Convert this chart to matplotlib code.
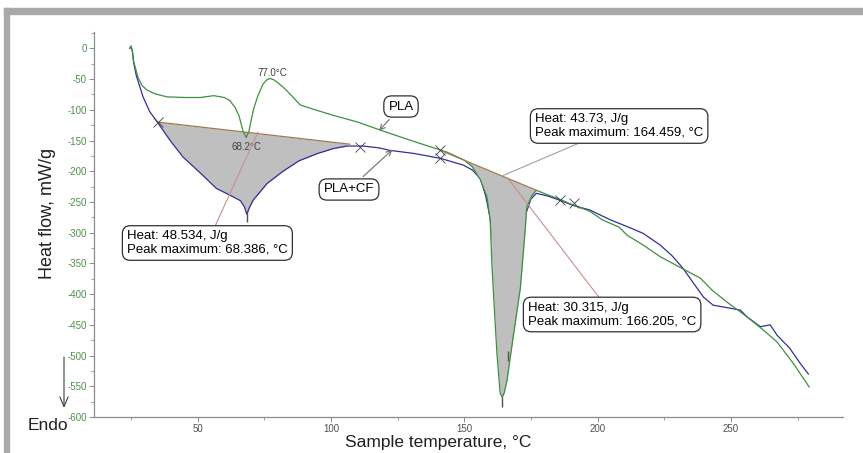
import numpy as np
import matplotlib.pyplot as plt
from matplotlib.patches import Rectangle
from matplotlib.ticker import MultipleLocator

plt.rcParams['font.family'] = ['Liberation Sans', 'DejaVu Sans']
plt.rcParams['axes.unicode_minus'] = False

# PLA (green) curve: temperature, heat flow
pla_t = [24.5, 25, 25.5, 26, 27.6, 29, 31, 34, 38.5, 45, 51, 56, 60, 62, 64, 65.5, 67, 68.2,
         69.2, 70, 71, 72.5, 74.5, 76, 77, 78.5, 80, 82, 85, 88.4, 93.3, 100, 110, 118.4, 130,
         143.5, 150, 153, 156, 158.5, 159.7, 160.3, 160.8, 162.2, 163.4, 164.2, 165, 166, 168.3,
         171, 172.8, 173.4, 175.4, 177, 181, 184.8, 190.8, 197, 201.7, 208, 211, 217, 223.4,
         232, 238.5, 243, 248.5, 256, 262, 267.3, 273.4, 279.3]
pla_hf = [0, 4, -5, -22, -47, -60, -68, -74, -79, -80, -80, -77, -80, -85, -96, -110, -135, -145,
          -135, -118, -98, -78, -58, -51, -49, -51, -56, -63, -76, -92, -99, -108, -120, -133, -150,
          -169, -182, -193, -214, -242, -280, -350, -390, -496, -561, -568, -560, -540, -470,
          -390, -296, -258, -239, -231, -238, -244, -255, -265, -279, -291, -304, -320, -339,
          -359, -374, -394, -413, -437, -458, -478, -513, -551]

# PLA+CF (blue) curve
cf_t = [24.5, 25, 25.5, 26, 27, 29.5, 32, 35, 40, 44.5, 51, 57, 63, 66, 67.5, 68.4, 69.5, 70.8,
        76, 82, 88, 95, 101, 106, 112, 118, 122, 131, 141, 149.6, 153, 156, 158, 159.6, 161.5,
        163.5, 165.5, 166.2, 167.5, 169.5, 171.5, 173, 175, 177, 181, 185, 191, 197, 204.7, 211,
        217, 223.4, 228, 232, 235.9, 239.7, 243.3, 248.5, 253.5, 256, 261, 264.7, 267.3, 272,
        276, 279]
cf_hf = [0, 3, -5, -24, -45, -79, -103, -121, -152, -177, -203, -228, -241, -248, -258, -270,
         -258, -247, -220, -200, -183, -171, -163, -159, -159, -162, -166, -171, -179, -190, -198,
         -212, -240, -275, -350, -430, -490, -500, -470, -400, -320, -270, -245, -236, -240, -246,
         -256, -263, -279, -290, -301, -320, -338, -358, -382, -405, -418, -422, -426, -437, -453,
         -450, -467, -488, -513, -530]

# integration baselines (start, end)
base1_t = [35, 107]
base1_hf = [-120, -156]
base2_t = [141, 177]
base2_hf = [-166, -231]

# integration limit marks
cross_t = [35, 111, 141, 141, 186, 191]
cross_hf = [-120, -160, -166, -179, -247, -252]

# peak maximum marks
peak_t = [68.4, 164.3, 166.2]
peak_hf = [-275, -575, -500]

W, H = 863, 453


def fp(x, y):
    return (x / W, 1 - y / H)


fig = plt.figure(figsize=(W / 100, H / 100), dpi=100)
fig.patches.append(Rectangle(fp(4, 453), 5 / W, 445 / H, transform=fig.transFigure,
                             color='#a9a9a9', zorder=0))
fig.patches.append(Rectangle(fp(4, 13.5), 1, 5 / H, transform=fig.transFigure,
                             color='#a9a9a9', zorder=0))

ax = fig.add_axes([94 / W, 1 - 417 / H, 749 / W, 385 / H])
ax.set_xlim(11.1, 292)
ax.set_ylim(-600, 26.6)
for s in ['top', 'right']:
    ax.spines[s].set_visible(False)
for s in ['left', 'bottom']:
    ax.spines[s].set_color('#8c8c8c')
    ax.spines[s].set_linewidth(0.9)
ax.set_xticks([50, 100, 150, 200, 250])
ax.set_yticks(np.arange(-600, 1, 50))
ax.xaxis.set_minor_locator(MultipleLocator(25))
ax.yaxis.set_minor_locator(MultipleLocator(25))
ax.tick_params(which='major', length=3.5, width=0.7, color='#8c8c8c', labelsize=7, pad=1.5)
ax.tick_params(which='minor', length=2, width=0.6, color='#8c8c8c')
ax.tick_params(axis='y', labelcolor='#4f8f4f')
ax.tick_params(axis='x', labelcolor='#505050')

green = '#3f8f3f'
blue = '#30309a'
brown = '#a07850'
fill = '#bfbfbf'

# shaded peak areas
t1 = np.array([t for t in cf_t if base1_t[0] <= t <= base1_t[1]])
h1 = np.interp(t1, cf_t, cf_hf)
b1 = np.interp(t1, base1_t, base1_hf)
ax.fill_between(t1, h1, b1, color=fill, lw=0, zorder=1)

t2 = np.array([t for t in pla_t if base2_t[0] <= t <= base2_t[1]])
h2 = np.interp(t2, pla_t, pla_hf)
b2 = np.interp(t2, base2_t, base2_hf)

ax.plot(cf_t, cf_hf, color=blue, lw=0.9, zorder=2)
ax.fill_between(t2, h2, b2, color=fill, lw=0, zorder=2.5)
ax.plot(pla_t, pla_hf, color=green, lw=0.9, zorder=3)
ax.plot(base1_t, base1_hf, color=brown, lw=0.9, zorder=3.2)
ax.plot(base2_t, base2_hf, color=brown, lw=0.9, zorder=3.2)
ax.plot(cross_t, cross_hf, 'x', color='#404040', ms=7, mew=0.6, zorder=4)
ax.plot(peak_t, peak_hf, '|', color='#505050', ms=7, mew=1.0, zorder=4)

ax.text(77.9, -40, '77.0°C', fontsize=7, color='#404040', ha='center', va='center')
ax.text(68.1, -161, '68.2°C', fontsize=7, color='#404040', ha='center', va='center', zorder=5)

box = dict(boxstyle='round,pad=0.35,rounding_size=0.6', fc='white', ec='#303030', lw=0.9)
ax.annotate('Heat: 48.534, J/g\nPeak maximum: 68.386, °C', xy=(72.6, -136),
            xytext=fp(127, 243), textcoords='figure fraction', fontsize=9.5,
            ha='left', va='center', bbox=box, linespacing=1.15, zorder=6,
            arrowprops=dict(arrowstyle='-', color='#c89090', lw=0.8, shrinkA=0, shrinkB=0))
ax.annotate('Heat: 43.73, J/g\nPeak maximum: 164.459, °C', xy=(164.5, -207),
            xytext=fp(535, 126), textcoords='figure fraction', fontsize=9.5,
            ha='left', va='center', bbox=box, linespacing=1.15, zorder=6,
            arrowprops=dict(arrowstyle='-', color='#a0a0a0', lw=0.8, shrinkA=0, shrinkB=0))
ax.annotate('Heat: 30.315, J/g\nPeak maximum: 166.205, °C', xy=(166.4, -212),
            xytext=fp(528, 314.5), textcoords='figure fraction', fontsize=9.5,
            ha='left', va='center', bbox=box, linespacing=1.15, zorder=6,
            arrowprops=dict(arrowstyle='-', color='#c89090', lw=0.8, shrinkA=0, shrinkB=0))
ax.annotate('PLA', xy=(118, -134), xytext=fp(401, 106.5), textcoords='figure fraction',
            fontsize=9.5, ha='center', va='center', bbox=box, zorder=6,
            arrowprops=dict(arrowstyle='->', color='#707070', lw=0.8, shrinkB=0))
ax.annotate('PLA+CF', xy=(123, -165), xytext=fp(349, 189.5), textcoords='figure fraction',
            fontsize=9.5, ha='center', va='center', bbox=box, zorder=6,
            arrowprops=dict(arrowstyle='->', color='#707070', lw=0.8, shrinkB=0))

fig.text(*fp(48, 213), 'Heat flow, mW/g', rotation=90, fontsize=13, ha='center', va='center',
         color='#202020')
fig.text(*fp(438, 442), 'Sample temperature, °C', fontsize=12.5, ha='center', va='center',
         color='#202020')
fig.text(*fp(48, 425), 'Endo', fontsize=12.5, ha='center', va='center', color='#202020')
ax.annotate('', xy=fp(64, 408), xytext=fp(64, 357), xycoords='figure fraction',
            textcoords='figure fraction',
            arrowprops=dict(arrowstyle='->,head_length=0.7,head_width=0.3', color='#404040',
                            lw=0.8, shrinkA=0, shrinkB=0), annotation_clip=False)

fig.savefig('out.png', dpi=100)
